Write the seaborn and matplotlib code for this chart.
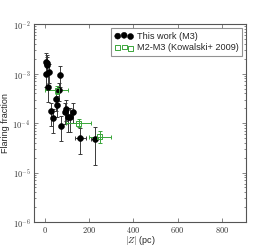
import numpy as np
import pandas as pd
import matplotlib
matplotlib.use("Agg")
import matplotlib.pyplot as plt
import matplotlib.ticker as mticker
import seaborn as sns

# This work (M3)
x_m3 = [3, 9, 11, 6, 18, 14, 68, 65, 50, 56, 26, 38, 73, 89, 95, 104, 115, 127, 159, 227]
y_m3 = [1.76e-3, 1.62e-3, 1.49e-3, 0.98e-3, 1.09e-3, 5.3e-4, 9.5e-4, 4.6e-4, 3.1e-4, 2.3e-4,
        1.8e-4, 1.26e-4, 8.9e-5, 1.66e-4, 1.94e-4, 1.3e-4, 1.3e-4, 1.68e-4, 4.9e-5, 4.8e-5]
y_m3_hi = [2.6e-3, 2.4e-3, 2.2e-3, 1.5e-3, 1.6e-3, 1.0e-3, 1.42e-3, 6.5e-4, 4.6e-4, 3.5e-4,
           2.6e-4, 1.9e-4, 1.4e-4, 2.5e-4, 2.9e-4, 2.0e-4, 2.0e-4, 2.5e-4, 8.0e-5, 8.3e-5]
y_m3_lo = [1.1e-3, 1.0e-3, 9.5e-4, 5.5e-4, 6.5e-4, 2.7e-4, 5.5e-4, 2.8e-4, 1.8e-4, 1.3e-4,
           8.8e-5, 6.2e-5, 4.4e-5, 9.5e-5, 1.1e-4, 6.5e-5, 6.5e-5, 1.0e-4, 2.4e-5, 1.4e-5]
xerr_m3 = [2, 2, 2, 2, 3, 3, 4, 4, 4, 4, 5, 5, 6, 6, 6, 7, 7, 8, 25, 20]

# M2-M3 (Kowalski+ 2009)
x_k = [54, 152, 248]
y_k = [4.6e-4, 1.0e-4, 5.3e-5]
y_k_hi = [5.6e-4, 1.2e-4, 6.8e-5]
y_k_lo = [3.8e-4, 8.5e-5, 4.0e-5]
xerr_k = [52, 55, 50]

labels = ["This work (M3)", "M2-M3 (Kowalski+ 2009)"]

sns.set_style("ticks")
plt.rcParams["font.family"] = ["Liberation Sans", "DejaVu Sans"]
plt.rcParams["mathtext.fontset"] = "cm"

fig = plt.figure(figsize=(2.74, 2.47), dpi=100)
ax = fig.add_axes([0.124, 0.101, 0.774, 0.801])

df_m3 = pd.DataFrame({"z": x_m3, "f": y_m3})
df_k = pd.DataFrame({"z": x_k, "f": y_k})

ym3 = np.array(y_m3)
ax.errorbar(x_m3, y_m3,
            yerr=[ym3 - np.array(y_m3_lo), np.array(y_m3_hi) - ym3],
            xerr=xerr_m3, fmt="none", ecolor="#3a3a3a", elinewidth=0.7,
            capsize=1.2, capthick=0.7, zorder=2)
yk = np.array(y_k)
ax.errorbar(x_k, y_k,
            yerr=[yk - np.array(y_k_lo), np.array(y_k_hi) - yk],
            xerr=xerr_k, fmt="none", ecolor="#3aa63a", elinewidth=0.7,
            capsize=1.2, capthick=0.7, zorder=3)

sns.scatterplot(data=df_m3, x="z", y="f", ax=ax, marker="o", s=18,
                color="black", edgecolor="black", linewidth=0.4, zorder=4, label=labels[0])
sns.scatterplot(data=df_k, x="z", y="f", ax=ax, marker="s", s=12,
                facecolor="none", edgecolor="#3aa63a", linewidth=0.7, zorder=5, label=labels[1])

ax.set_yscale("log")
ax.set_xlim(-50, 910)
ax.set_ylim(1e-6, 1e-2)

ax.xaxis.set_major_locator(mticker.FixedLocator([0, 200, 400, 600, 800]))
ax.xaxis.set_major_formatter(mticker.FuncFormatter(lambda v, p: r"$%d$" % v))
ax.yaxis.set_major_locator(mticker.LogLocator(base=10, numticks=10))
ax.yaxis.set_major_formatter(mticker.FuncFormatter(lambda v, p: r"$10^{%d}$" % round(np.log10(v))))
ax.yaxis.set_minor_locator(mticker.LogLocator(base=10, subs=np.arange(2, 10), numticks=20))
ax.yaxis.set_minor_formatter(mticker.NullFormatter())

ax.tick_params(which="both", direction="in", top=True, right=True, colors="#555555",
               labelcolor="#333333", labelsize=6, width=0.5)
ax.tick_params(axis="x", pad=2)
ax.tick_params(axis="y", pad=2.5)
ax.tick_params(which="major", length=3)
ax.tick_params(which="minor", length=1.5)
for s in ax.spines.values():
    s.set_color("#555555")
    s.set_linewidth(0.8)

ax.set_xlabel(r"$|Z|$ (pc)", fontsize=6.5, labelpad=-0.5)
ax.set_ylabel("Flaring fraction", fontsize=6.5, labelpad=2)

leg = ax.legend(loc="upper right", fontsize=6.6, scatterpoints=3, frameon=True,
                fancybox=False, borderpad=0.4, handletextpad=0.4, labelspacing=0.3,
                borderaxespad=0.4, handlelength=2.0)
leg.get_frame().set_edgecolor("#777777")
leg.get_frame().set_linewidth(0.8)

fig.savefig("out.png", dpi=100)
